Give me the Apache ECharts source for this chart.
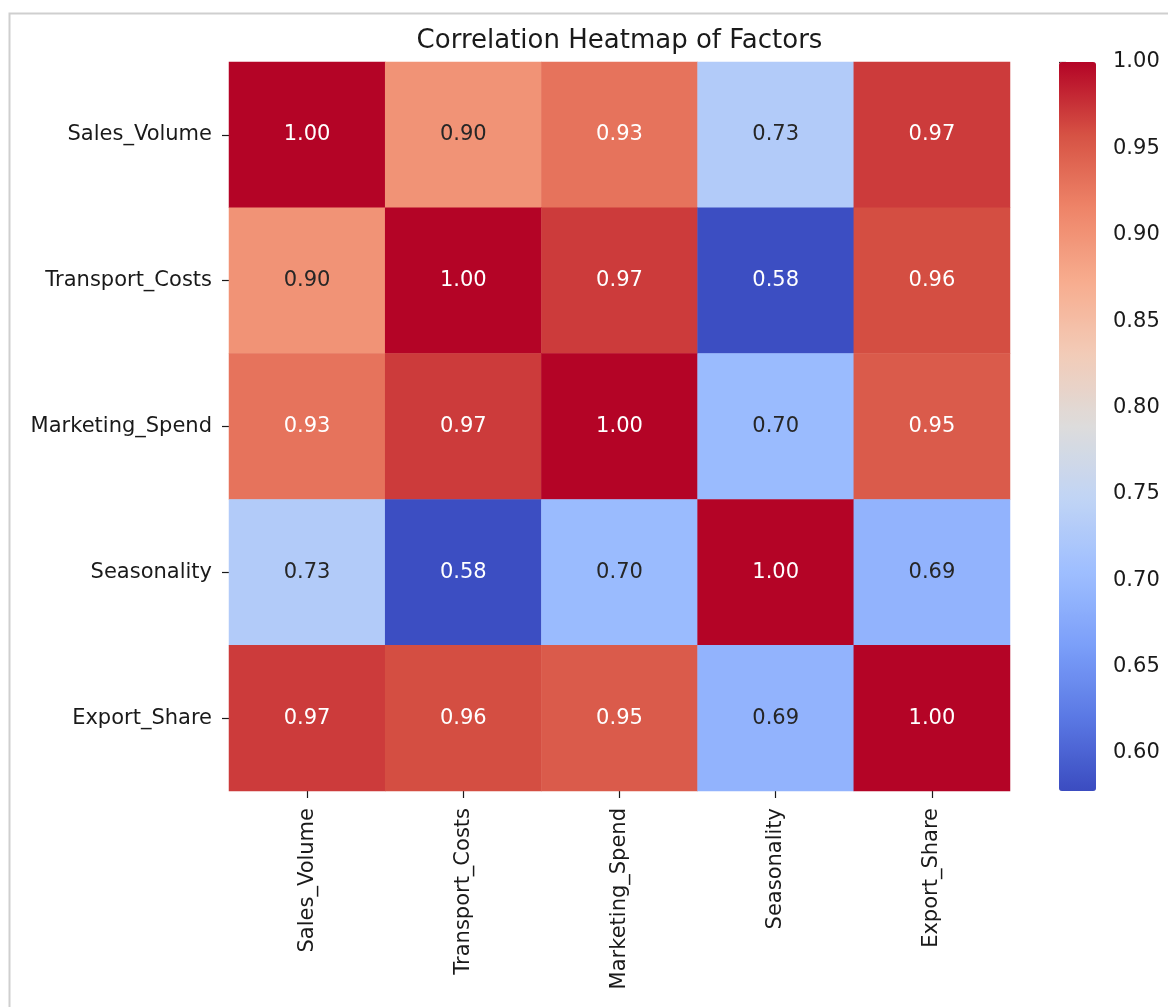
<!DOCTYPE html>
<html>
<head>
<meta charset="utf-8">
<style>
  html, body { margin: 0; padding: 0; background: #ffffff; }
  #chart { width: 1168px; height: 1007px; }
</style>
<script src="https://cdn.jsdelivr.net/npm/echarts@6/dist/echarts.min.js"></script>
</head>
<body>
<div id="chart"></div>
<script>
// Factor names (rows top to bottom, columns left to right)
const factors = ['Sales_Volume', 'Transport_Costs', 'Marketing_Spend', 'Seasonality', 'Export_Share'];

// Correlation coefficients, one row per factor
const salesVolume    = [1.00, 0.90, 0.93, 0.73, 0.97];
const transportCosts = [0.90, 1.00, 0.97, 0.58, 0.96];
const marketingSpend = [0.93, 0.97, 1.00, 0.70, 0.95];
const seasonality    = [0.73, 0.58, 0.70, 1.00, 0.69];
const exportShare    = [0.97, 0.96, 0.95, 0.69, 1.00];

// Colour bar range and tick labels
const colorMin = 0.578;
const colorMax = 1.00;
const colorTicks = [0.60, 0.65, 0.70, 0.75, 0.80, 0.85, 0.90, 0.95, 1.00];

// Diverging blue-white-red palette ("coolwarm"), evenly spaced stops
const coolwarm = ['#3b4cc0', '#5a78e4', '#7b9ff9', '#9ebeff', '#c0d4f5', '#dddcdc',
                  '#f2cbb7', '#f7ac8e', '#ee8468', '#d65244', '#b40426'];

const rows = [salesVolume, transportCosts, marketingSpend, seasonality, exportShare];

function hexToRgb(h) {
  return [parseInt(h.slice(1, 3), 16), parseInt(h.slice(3, 5), 16), parseInt(h.slice(5, 7), 16)];
}
function paletteColor(v) {
  let t = (v - colorMin) / (colorMax - colorMin);
  t = Math.max(0, Math.min(1, t));
  const pos = t * (coolwarm.length - 1);
  const i = Math.min(Math.floor(pos), coolwarm.length - 2);
  const f = pos - i;
  const a = hexToRgb(coolwarm[i]), b = hexToRgb(coolwarm[i + 1]);
  return a.map((c, k) => c + (b[k] - c) * f);
}
function luminance(rgb) {
  const lin = rgb.map(c => {
    c = c / 255;
    return c <= 0.03928 ? c / 12.92 : Math.pow((c + 0.055) / 1.055, 2.4);
  });
  return 0.2126 * lin[0] + 0.7152 * lin[1] + 0.0722 * lin[2];
}

// Heatmap cells: [column, row, value]; annotation colour follows cell brightness
const cells = [];
rows.forEach((row, r) => {
  row.forEach((v, c) => {
    const light = luminance(paletteColor(v)) > 0.408;
    cells.push({
      value: [c, r, v],
      label: { color: light ? '#262626' : '#ffffff' }
    });
  });
});

const FONT = 'DejaVu Sans';
const TEXT = '#1a1a1a';
const LABEL_SIZE = 21;

const chart = echarts.init(document.getElementById('chart'), null, { renderer: 'canvas' });

chart.setOption({
  backgroundColor: '#ffffff',
  animation: false,
  graphic: [{
    type: 'rect',
    left: 7, top: 11,
    shape: { width: 1300, height: 1100 },
    style: { fill: 'none', stroke: '#cfcfcf', lineWidth: 2 },
    silent: true
  }],
  title: {
    text: 'Correlation Heatmap of Factors',
    left: 619.5,
    top: 28,
    textAlign: 'center',
    padding: 0,
    textStyle: { fontFamily: FONT, fontSize: 26, fontWeight: 'normal', color: TEXT }
  },
  grid: [
    { left: 229, top: 62, width: 781, height: 729 },
    { left: 1059, top: 62, width: 37, height: 729 }
  ],
  xAxis: [
    {
      gridIndex: 0,
      type: 'category',
      data: factors,
      position: 'bottom',
      axisLine: { show: false },
      axisTick: { show: true, alignWithLabel: true, length: 7, lineStyle: { color: TEXT, width: 1.2 } },
      axisLabel: { rotate: 90, margin: 17, fontFamily: FONT, fontSize: LABEL_SIZE, color: TEXT },
      splitLine: { show: false }
    },
    { gridIndex: 1, type: 'value', show: false, min: 0, max: 1 }
  ],
  yAxis: [
    {
      gridIndex: 0,
      type: 'category',
      data: factors,
      inverse: true,
      axisLine: { show: false },
      axisTick: { show: true, alignWithLabel: true, length: 7, lineStyle: { color: TEXT, width: 1.2 } },
      axisLabel: { margin: 17, fontFamily: FONT, fontSize: LABEL_SIZE, color: TEXT },
      splitLine: { show: false }
    },
    {
      gridIndex: 1,
      type: 'value',
      position: 'right',
      min: colorMin,
      max: colorMax,
      axisLine: { show: false },
      axisTick: { show: true, length: 7, customValues: colorTicks, lineStyle: { color: TEXT, width: 1.2 } },
      axisLabel: {
        show: true, margin: 17, customValues: colorTicks,
        fontFamily: FONT, fontSize: LABEL_SIZE, color: TEXT,
        formatter: v => v.toFixed(2)
      },
      splitLine: { show: false }
    }
  ],
  visualMap: {
    type: 'continuous',
    seriesIndex: 0,
    min: colorMin,
    max: colorMax,
    orient: 'vertical',
    left: 1059,
    top: 62,
    padding: 0,
    itemWidth: 37,
    itemHeight: 729,
    calculable: false,
    hoverLink: false,
    text: null,
    showLabel: false,
    inRange: { color: coolwarm }
  },
  series: [{
    type: 'heatmap',
    xAxisIndex: 0,
    yAxisIndex: 0,
    data: cells,
    label: {
      show: true,
      fontFamily: FONT,
      fontSize: LABEL_SIZE,
      formatter: p => p.value[2].toFixed(2)
    },
    itemStyle: { borderWidth: 0 },
    emphasis: { disabled: true }
  }]
});
</script>
</body>
</html>
